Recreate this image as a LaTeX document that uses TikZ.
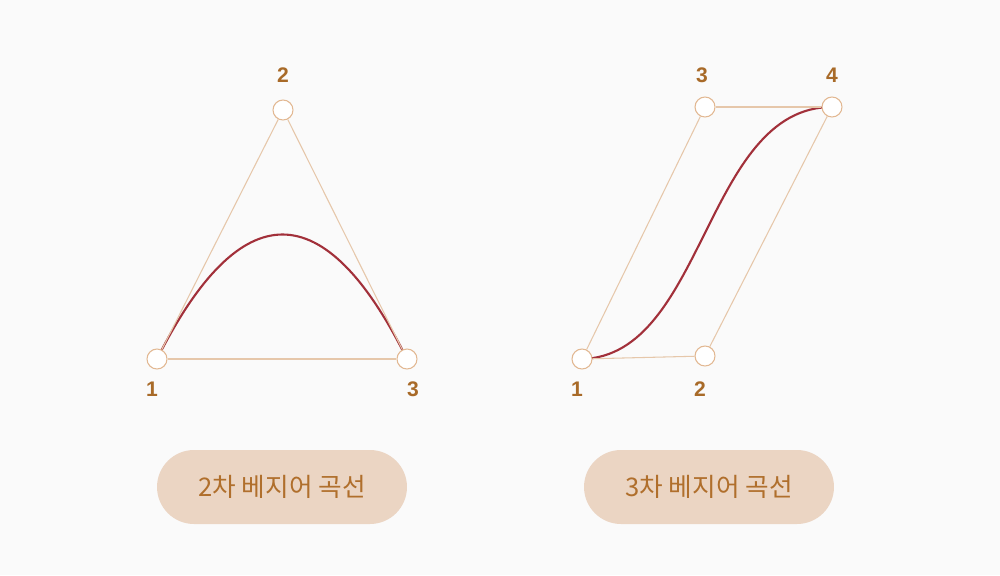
\documentclass[tikz,border=0pt]{standalone}
\usepackage{fontspec}
\setmainfont{Liberation Sans}
\newfontfamily\krfont{Noto Sans CJK KR}
\usetikzlibrary{backgrounds, calc}
\definecolor{bgcol}{HTML}{FAFAFA}
\definecolor{tancol}{HTML}{E6C7AA}
\definecolor{ringcol}{HTML}{E2B892}
\definecolor{curvecol}{HTML}{A2303A}
\definecolor{numcol}{HTML}{A86A28}
\definecolor{pillcol}{HTML}{EBD5C3}
\definecolor{pilltext}{HTML}{B06F2C}

\begin{document}
\begin{tikzpicture}[x=0.02cm, y=-0.02cm,
    pt/.style={draw=ringcol, fill=white, circle, line width=0.6pt, minimum size=0.4cm, inner sep=0pt},
    hull/.style={draw=tancol, line width=0.6pt},
    bez/.style={draw=curvecol, line width=1.2pt},
    num/.style={font=\bfseries\fontsize{12}{14}\selectfont, text=numcol},
    pill/.style={fill=pillcol, rounded corners=0.74cm, minimum width=5cm, minimum height=1.48cm, font=\krfont\fontsize{14.6}{17}\selectfont, text=pilltext}]
        \useasboundingbox (0,0) rectangle (1000,575);
        % quadratic curve
        \node[pt] (qa) at (157, 359) {};
        \node[pt] (qb) at (283, 110) {};
        \node[pt] (qc) at (407, 359) {};
        \node[num] (qla) at (152, 389) {1};
        \node[num] (qlb) at (283, 75) {2};
        \node[num] (qlc) at (413, 389) {3};
        \draw[hull] (qa) -- (qb);
        \draw[hull] (qb) -- (qc);
        \draw[hull] (qa) -- (qc);
        % cubic curve
        \node[pt] (ca) at (582, 359) {};
        \node[pt] (cb) at (705, 356) {};
        \node[pt] (cc) at (705, 107) {};
        \node[pt] (cd) at (832, 107) {};
        \node[num] (cla) at (577, 389) {1};
        \node[num] (clb) at (700, 389) {2};
        \node[num] (clc) at (702, 75) {3};
        \node[num] (cld) at (832, 75) {4};
        \draw[hull] (ca) -- (cb);
        \draw[hull] (ca) -- (cc);
        \draw[hull] (cc) -- (cd);
        \draw[hull] (cb) -- (cd);
        \begin{pgfonlayer}{background}
            \fill[bgcol] (0,0) rectangle (1000,575);
            % quadratic as cubic: controls at 2/3 toward the middle point
            \draw[bez] (qa.center) .. controls ($(qa.center)!2/3!(qb.center)$) and ($(qc.center)!2/3!(qb.center)$) .. (qc.center);
            \draw[bez] (ca.center) .. controls (cb.center) and (cc.center) .. (cd.center);
        \end{pgfonlayer}
        % captions
        \node[pill] (quad) at (282, 487) {2차 베지어 곡선};
        \node[pill] (cubic) at (709, 487) {3차 베지어 곡선};
\end{tikzpicture}
\end{document}
